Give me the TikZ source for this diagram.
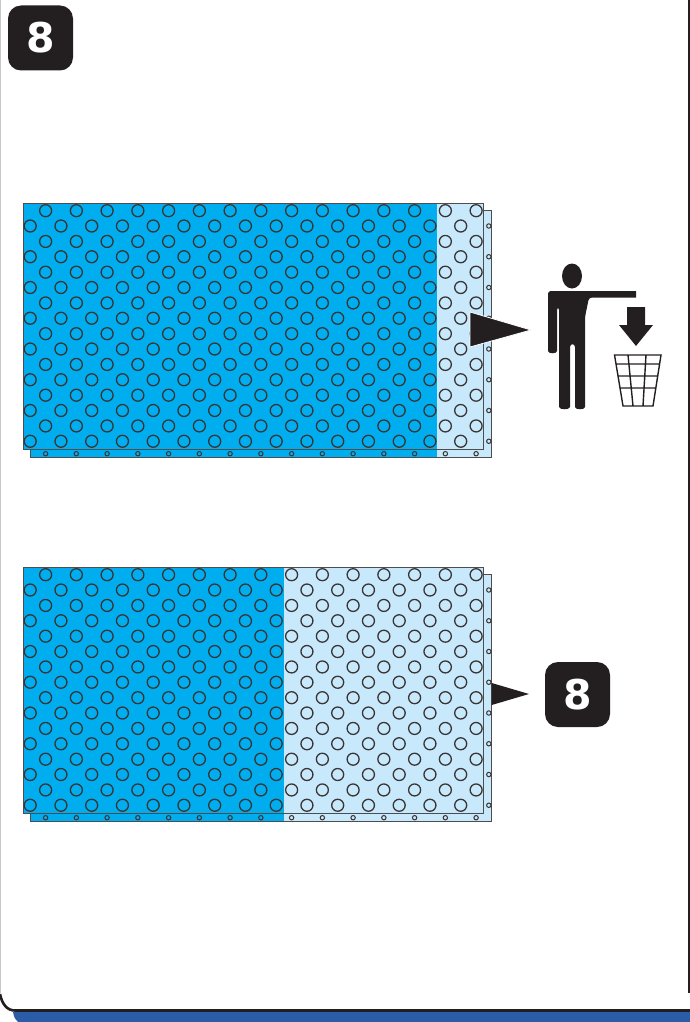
\documentclass[tikz,border=0pt]{standalone}
\usepackage{fontspec}
\setsansfont{DejaVu Sans}
\definecolor{sheetblue}{HTML}{00AEEF}
\definecolor{sheetpale}{HTML}{C8E9FB}
\definecolor{inkdark}{HTML}{231F20}
\definecolor{bandblue}{HTML}{2B5CA8}

\begin{document}
\begin{tikzpicture}[x=1pt,y=-1pt,
    edge/.style={inkdark!80,line width=1pt},
    hole/.style={inkdark!90,line width=1.3pt},
    figure/.style={fill=inkdark,draw=none},
    badge/.style={fill=inkdark,rounded corners=13pt,minimum size=65pt,inner sep=0pt,
      text=white,font=\sffamily\bfseries\fontsize{41}{41}\selectfont}]
  \useasboundingbox (0,0) rectangle (690,1022);
  % page frame
  \fill[bandblue] (13,1012) .. controls (14,1017) and (15,1020) .. (18,1022) -- (690,1022) -- (690,1012) -- cycle;
  \draw[black!22,line width=1.4pt] (0.5,0) -- (0.5,993);
  \draw[inkdark,line width=2.6pt] (0,994) .. controls (2,1004) and (7,1010.5) .. (15,1010.5) -- (690,1010.5);
  \draw[inkdark,line width=1.5pt] (689,0) -- (689,993);
  % the two panels, second is the first moved down
  \foreach \panel/\split in {0/437,364/284} {
    \fill[sheetpale] (30,210+\panel) rectangle (491,457+\panel);
    \fill[sheetblue] (30,210+\panel) rectangle (\split,457+\panel);
    \draw[edge] (30,210+\panel) rectangle (491,457+\panel);
    \fill[sheetpale] (23,203+\panel) rectangle (483,449+\panel);
    \fill[sheetblue] (23,203+\panel) rectangle (\split,449+\panel);
    \draw[edge] (23,203+\panel) rectangle (483,449+\panel);
    \foreach \r in {0,...,7} \foreach \c in {0,...,14} {
      \draw[hole] ({45.6+30.75*\c},{210.7+30.75*\r+\panel}) circle [radius=6pt];
      \draw[hole] ({30.2+30.75*\c},{226+30.75*\r+\panel}) circle [radius=6pt];
    }
    \foreach \c in {0,...,14} \draw[hole,line width=1pt] ({45.6+30.75*\c},{453.7+\panel}) circle [radius=2.2pt];
    \foreach \r in {0,...,7} \draw[hole,line width=1pt] (488.8,{226+30.75*\r+\panel}) circle [radius=2.2pt];
  }
  % pointers
  \draw[figure,draw=white,line width=.8pt] (470,312) -- (531,330) -- (470,347) -- cycle;
  \fill[inkdark] (491.7,683) -- (529,694) -- (491.7,705) -- cycle;
  % badges
  \node[badge] (stepTop) at (40.5,38) {8};
  \node[badge] (stepSide) at (577.5,694.5) {8};
  % man
  \fill[figure] (572,276) ellipse [x radius=10,y radius=12.5];
  \fill[figure,rounded corners=3pt] (548,352) -- (548,296) .. controls (548,293) and (550,291) .. (553,291) -- (633,291) .. controls (635,291) and (636,292.5) .. (636,294.2) .. controls (636,296) and (635,297.5) .. (633,297.5) -- (589,297.5) -- (585,317) -- (585,404) .. controls (585,410) and (575,410) .. (575,404) -- (575,344) -- (570,344) -- (570,404) .. controls (570,410) and (559,410) .. (559,404) -- (559,307) -- (557,307) -- (557,348) .. controls (557,354) and (548,354) .. (548,348) -- cycle;
  % arrow and bin
  \fill[figure] (627,307) -- (645,307) -- (645,325) -- (653,325) -- (636,346) -- (619,325) -- (627,325) -- cycle;
  \draw[inkdark,line width=1.4pt] (614.5,355) -- (661,355) -- (653,406) -- (623,406) -- cycle
    (616,364) -- (660,364) (618,376) -- (658,376) (620,388) -- (656,388)
    (628,355) -- (633,406) (646,355) -- (643,406);
\end{tikzpicture}
\end{document}
